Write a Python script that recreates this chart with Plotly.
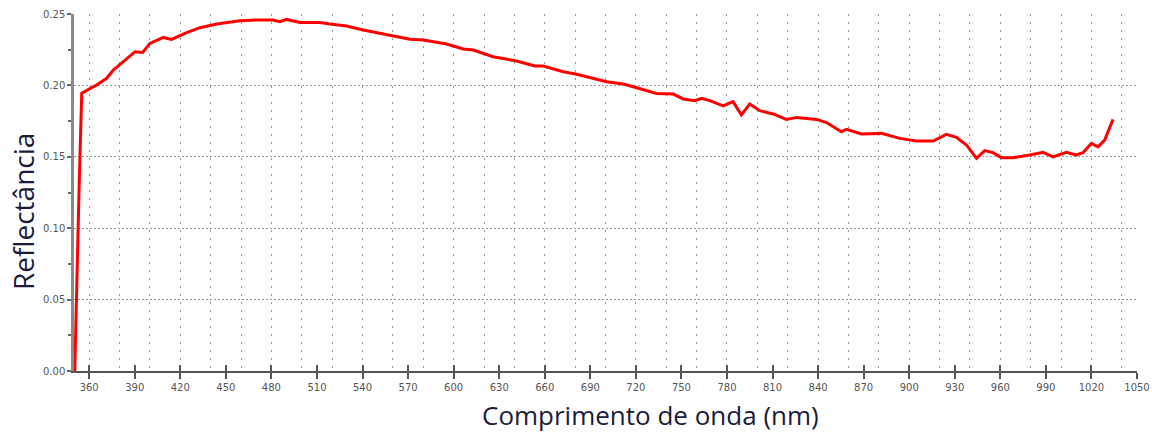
import plotly.graph_objects as go

wavelength_nm = [350.5, 351.8, 353.5, 355.1, 364.9, 371.5, 375.9, 382.5, 390.2, 395.2,
                 400.0, 408.8, 414.3, 424.2, 433.0, 444.0, 459.3, 470.3, 481.0, 485.6,
                 490.0, 498.8, 512.0, 518.5, 529.5, 540.5, 558.0, 571.2, 580.0, 595.3,
                 606.3, 612.9, 626.0, 641.4, 653.5, 659.0, 672.2, 681.0, 700.7, 711.7,
                 720.5, 733.6, 744.6, 751.2, 758.8, 763.2, 768.7, 777.5, 784.0, 789.5,
                 795.0, 801.6, 810.4, 819.2, 825.8, 839.0, 845.5, 855.4, 858.7, 868.5,
                 881.7, 893.8, 904.8, 915.7, 924.5, 931.1, 937.7, 944.3, 949.7, 955.2,
                 960.7, 968.4, 979.4, 988.2, 994.7, 1003.5, 1010.0, 1014.4, 1020.0, 1024.3,
                 1028.7, 1034.2]
reflectance = [0.000, 0.064, 0.134, 0.1945, 0.2003, 0.2050, 0.2108, 0.2166, 0.2236, 0.2231,
               0.2294, 0.2336, 0.2322, 0.2369, 0.2404, 0.2430, 0.2453, 0.2458, 0.2458, 0.2446,
               0.2462, 0.2440, 0.2440, 0.2430, 0.2416, 0.2388, 0.2353, 0.2323, 0.2318, 0.2290,
               0.2255, 0.2248, 0.2201, 0.2171, 0.2136, 0.2136, 0.2096, 0.2078, 0.2026, 0.2010,
               0.1984, 0.1944, 0.1939, 0.1905, 0.1893, 0.1910, 0.1893, 0.1856, 0.1886, 0.1793,
               0.1870, 0.1823, 0.1800, 0.1762, 0.1776, 0.1762, 0.1740, 0.1676, 0.1693, 0.1660,
               0.1664, 0.1629, 0.1610, 0.1610, 0.1657, 0.1636, 0.1583, 0.1489, 0.1543, 0.1529,
               0.1494, 0.1494, 0.1513, 0.1531, 0.1500, 0.1531, 0.1513, 0.1529, 0.1594, 0.1570,
               0.1617, 0.1762]

x_ticks = list(range(360, 1051, 30))
y_ticks = [0.00, 0.05, 0.10, 0.15, 0.20, 0.25]
x_title = "Comprimento de onda (nm)"
y_title = "Reflectância"

tick_font = dict(family="DejaVu Sans", size=10, color="#555555")
title_color = "#1c1c3a"

fig = go.Figure()
fig.add_trace(go.Scatter(x=wavelength_nm, y=reflectance, mode="lines",
                         line=dict(color="#ff0000", width=3), showlegend=False))

fig.update_layout(
    width=1152, height=432,
    margin=dict(l=74, r=15, t=14, b=61, autoexpand=False),
    paper_bgcolor="white", plot_bgcolor="white",
    xaxis=dict(
        range=[350, 1050], tickvals=x_ticks, ticktext=[str(v) for v in x_ticks],
        showgrid=False, zeroline=False, automargin=False,
        showline=True, linecolor="#555555", linewidth=1.5,
        ticks="outside", ticklen=6, tickwidth=1.5, tickcolor="#555555",
        tickfont=tick_font,
        minor=dict(tick0=360, dtick=20, showgrid=True, gridcolor="#999999",
                   griddash="2px,6px", gridwidth=1, ticks=""),
    ),
    xaxis2=dict(
        range=[350, 1050], overlaying="x", matches="x", tickvals=x_ticks,
        showticklabels=False, showgrid=False, zeroline=False, showline=False,
        ticks="inside", ticklen=6, tickwidth=1.5, tickcolor="#555555",
        side="bottom", automargin=False,
    ),
    yaxis=dict(
        range=[0, 0.25], tickvals=y_ticks, ticktext=[f"{v:.2f}" for v in y_ticks],
        showgrid=True, gridcolor="#999999", griddash="2px,2px", gridwidth=1,
        zeroline=False, automargin=False,
        showline=True, linecolor="#8a8a8a", linewidth=2.5,
        ticks="outside", ticklen=4, tickwidth=1.5, tickcolor="#666666",
        tickfont=tick_font,
        minor=dict(dtick=0.025, ticks="outside", ticklen=3, tickcolor="#666666",
                   showgrid=False),
    ),
    annotations=[
        dict(text=x_title, xref="paper", yref="paper", x=0.542, y=-0.123,
             xanchor="center", yanchor="middle", showarrow=False,
             font=dict(family="Open Sans", size=26, color=title_color)),
        dict(text=y_title, xref="paper", yref="paper", x=-0.048, y=0.448,
             xanchor="center", yanchor="middle", showarrow=False, textangle=-90,
             font=dict(family="Open Sans", size=28, color=title_color)),
    ],
)
fig.add_trace(go.Scatter(x=[None], y=[None], xaxis="x2", showlegend=False,
                         hoverinfo="skip"))

fig.write_html(
    "out.html",
    config={"displayModeBar": False},
    post_script="document.body.style.margin='0';document.body.style.overflow='hidden';",
)
